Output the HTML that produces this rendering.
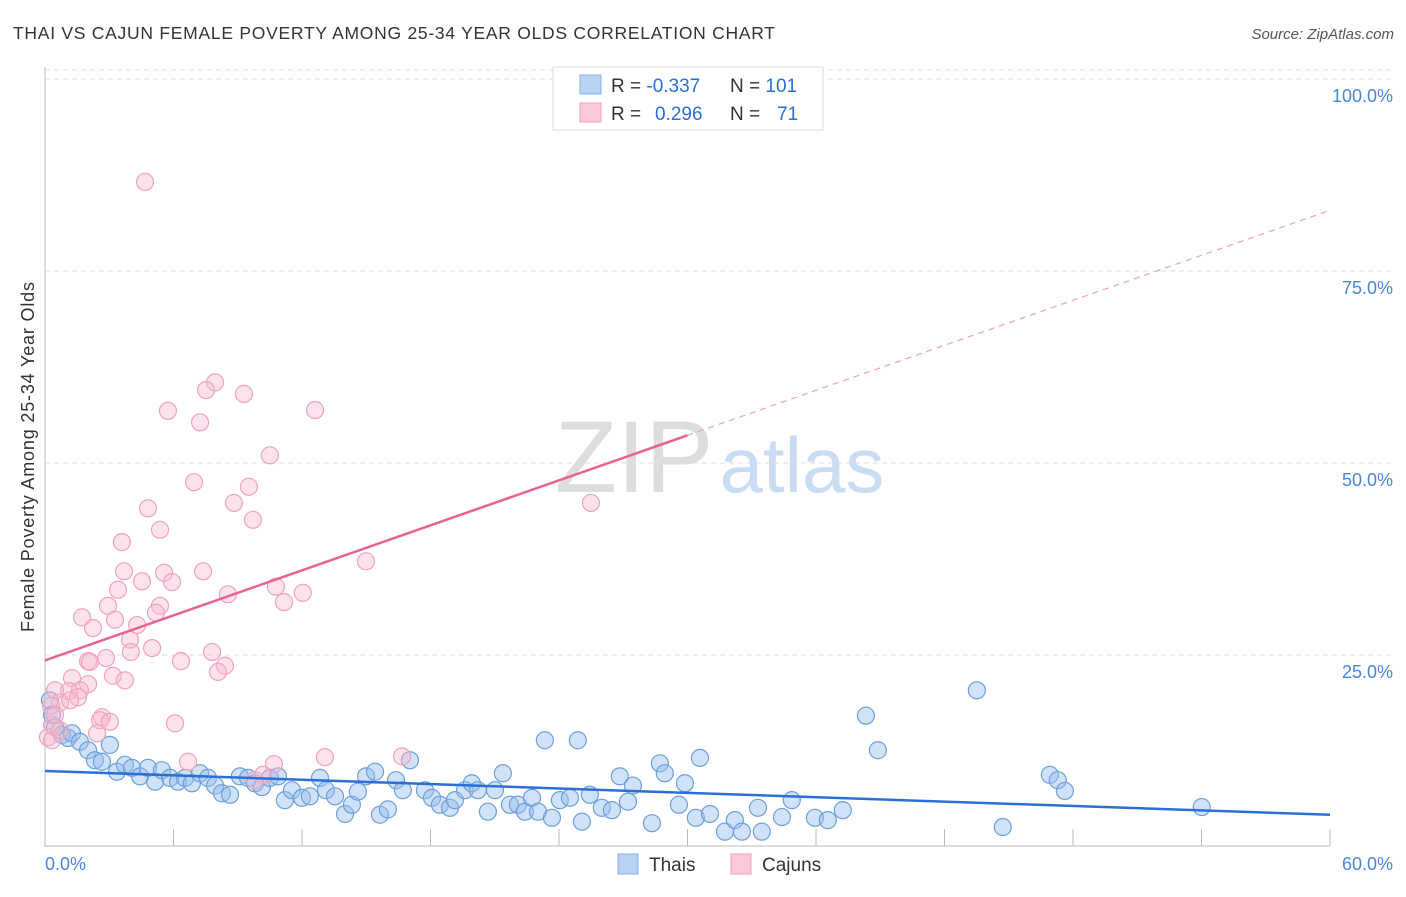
<!DOCTYPE html>
<html><head><meta charset="utf-8"><style>
body{margin:0;background:#fff;font-family:"Liberation Sans",sans-serif;}
svg text{font-family:"Liberation Sans",sans-serif;}
</style></head><body>
<svg id="chart" width="1406" height="892" xmlns="http://www.w3.org/2000/svg">
<text x="13" y="39" font-size="17.5" fill="#333" textLength="762">THAI VS CAJUN FEMALE POVERTY AMONG 25-34 YEAR OLDS CORRELATION CHART</text>
<text x="1394" y="39" font-size="15" fill="#555" font-style="italic" text-anchor="end">Source: ZipAtlas.com</text>
<text transform="translate(34,457) rotate(-90)" font-size="18" fill="#333" text-anchor="middle" textLength="350">Female Poverty Among 25-34 Year Olds</text>
<g>
<text x="634" y="492" font-size="102" fill="#ddd" font-family="Liberation Serif,serif" text-anchor="middle">ZIP</text>
<text x="802" y="492" font-size="78" fill="#c9dcf3" text-anchor="middle">atlas</text>
</g>
<g id="grid"></g><g id="axes"></g><g id="pts"></g><g id="lines"></g>
<g>
<rect x="553" y="67" width="270" height="63" fill="#fff" stroke="#ddd"/>
<rect x="580" y="75" width="21" height="19" fill="#b8d2f3" stroke="#8ab2e6"/>
<rect x="580" y="103" width="21" height="19" fill="#fbc8d8" stroke="#f0a0b8"/>
<text x="611" y="92" font-size="19" fill="#333">R = <tspan fill="#2a6fd6">-0.337</tspan></text>
<text x="730" y="92" font-size="19" fill="#333">N = <tspan fill="#2a6fd6">101</tspan></text>
<text x="611" y="120" font-size="19" fill="#333">R = <tspan fill="#2a6fd6" x="655">0.296</tspan></text>
<text x="730" y="120" font-size="19" fill="#333">N = <tspan fill="#2a6fd6" x="777">71</tspan></text>
</g>
<g>
<rect x="618" y="854" width="20" height="20" fill="#b8d2f3" stroke="#8ab2e6"/>
<text x="649" y="871" font-size="19" fill="#333">Thais</text>
<rect x="731" y="854" width="20" height="20" fill="#fbc8d8" stroke="#f0a0b8"/>
<text x="762" y="871" font-size="19" fill="#333">Cajuns</text>
</g>
</svg>
<script>
const yTicks=[25,50,75,100];
const yTickLabels=["25.0%","50.0%","75.0%","100.0%"];
const xTicks=[0,6,12,18,24,30,36,42,48,54,60];
const thaiX=[0.23,0.33,0.47,0.79,1.07,1.26,1.63,2.01,2.33,2.66,3.03,3.36,3.73,4.06,4.44,4.81,5.14,5.46,5.84,6.21,6.54,6.86,7.24,7.61,7.94,8.26,8.64,9.10,9.48,9.80,10.13,10.50,10.88,11.20,11.53,12.00,12.37,12.84,13.12,13.54,14.01,14.33,14.61,14.99,15.41,15.64,16.01,16.39,16.71,17.04,17.74,18.07,18.44,18.91,19.14,19.61,19.93,20.21,20.68,21.01,21.38,21.71,22.08,22.41,22.74,23.02,23.34,23.67,24.04,24.51,24.88,25.07,25.44,26.00,26.47,26.84,27.22,27.45,28.34,28.71,28.94,29.60,29.88,30.39,30.58,31.05,31.75,32.21,32.54,33.29,33.47,34.41,34.87,35.95,36.55,37.25,38.33,38.89,43.51,44.72,46.92,47.29,47.62,54.01];
const thaiY=[19.1,17.2,15.6,14.6,14.2,14.8,13.7,12.6,11.3,11.1,13.3,9.8,10.7,10.3,9.2,10.3,8.5,10.0,9.0,8.5,9.0,8.3,9.6,9.0,8.0,7.0,6.8,9.2,9.0,8.3,7.8,9.0,9.2,6.1,7.4,6.4,6.6,9.0,7.4,6.6,4.3,5.5,7.2,9.2,9.8,4.2,4.9,8.7,7.4,11.3,7.4,6.4,5.5,5.1,6.1,7.4,8.3,7.4,4.6,7.4,9.6,5.5,5.5,4.6,6.4,4.6,13.9,3.8,6.1,6.4,13.9,3.3,6.8,5.1,4.8,9.2,5.9,8.0,3.1,10.9,9.6,5.5,8.3,3.8,11.6,4.3,2.0,3.5,2.0,5.1,2.0,3.9,6.1,3.8,3.5,4.8,17.1,12.6,20.4,2.6,9.4,8.7,7.3,5.2];
const cajunX=[4.67,7.94,5.74,7.52,9.29,12.61,7.24,10.50,6.96,9.52,8.82,4.81,9.71,5.37,25.49,14.99,3.59,3.69,7.38,5.56,5.93,4.53,3.41,8.54,10.78,12.04,11.16,2.94,5.37,5.18,1.73,3.27,4.30,2.24,3.97,5.00,4.01,7.80,2.01,2.85,2.10,6.35,8.40,8.08,3.17,3.73,1.26,2.01,1.63,1.12,0.47,1.54,0.70,0.28,2.66,2.57,3.03,6.07,0.33,2.43,0.14,0.33,6.68,10.69,13.07,16.67,10.18,9.80,0.47,0.70,1.17];
const cajunY=[86.6,60.5,56.8,59.5,59.0,56.9,55.3,51.0,47.5,46.9,44.8,44.1,42.6,41.3,44.8,37.2,39.7,35.9,35.9,35.7,34.5,34.6,33.5,32.9,33.9,33.1,31.9,31.4,31.4,30.5,29.9,29.6,28.9,28.5,27.0,25.9,25.4,25.4,24.2,24.6,24.1,24.2,23.6,22.8,22.3,21.7,22.0,21.2,20.4,20.3,20.4,19.5,18.8,18.4,16.9,16.5,16.3,16.1,15.9,14.8,14.3,13.9,11.1,10.8,11.7,11.8,9.4,8.7,17.2,15.2,19.1];
const thaiTrend=[9.9,4.2];
const cajunTrend=[24.3,82.9];
const NS="http://www.w3.org/2000/svg";
const X=v=>45+v*(1330-45)/60;
const Y=v=>847-v*7.68;
function mk(t,a,p){const e=document.createElementNS(NS,t);for(const k in a)e.setAttribute(k,a[k]);document.getElementById(p).appendChild(e);return e;}
yTicks.forEach((t,i)=>{
 const l=mk('line',{x1:45,x2:1394,y1:Y(t),y2:Y(t),stroke:'#ddd','stroke-dasharray':'5,4'},'grid');
 
 
 const tx=mk('text',{x:1393,y:Y(t)+23,'font-size':18,fill:'#4a86d8','text-anchor':'end'},'axes');
 tx.textContent=yTickLabels[i];
 
 
});
const tl=mk('line',{x1:45,x2:1394,y1:Y(100)-9,y2:Y(100)-9,stroke:'#ddd','stroke-dasharray':'5,4'},'grid');


const ya=mk('line',{x1:45,x2:45,y1:67,y2:847,stroke:'#bbb'},'axes');


const xa=mk('line',{x1:45,x2:1330,y1:846,y2:846,stroke:'#bbb'},'axes');


xTicks.forEach(t=>{
 const l=mk('line',{x1:X(t),x2:X(t),y1:829,y2:846,stroke:'#bbb'},'axes');
 
 
});
const xl0=mk('text',{x:45,y:870,'font-size':18,fill:'#4a86d8'},'axes');
xl0.textContent='0.0%';


const xl1=mk('text',{x:1393,y:870,'font-size':18,fill:'#4a86d8','text-anchor':'end'},'axes');
xl1.textContent='60.0%';


thaiX.forEach((v,i)=>{
 const c=mk('circle',{cx:X(v),cy:Y(thaiY[i]),r:8.5,fill:'rgba(150,190,238,0.45)',stroke:'#6e9fdc','stroke-width':1.2},'pts');
 
 
});
cajunX.forEach((v,i)=>{
 const c=mk('circle',{cx:X(v),cy:Y(cajunY[i]),r:8.5,fill:'rgba(248,185,205,0.4)',stroke:'#f0a3bb','stroke-width':1.2},'pts');
 
 
});
const l1=mk('line',{x1:X(0),y1:Y(thaiTrend[0]),x2:X(60),y2:Y(thaiTrend[1]),stroke:'#2a6fd6','stroke-width':2.5},'lines');


const cm=(cajunTrend[0]+cajunTrend[1])/2;
const l2=mk('line',{x1:X(0),y1:Y(cajunTrend[0]),x2:X(30),y2:Y(cm),stroke:'#e8638f','stroke-width':2.5},'lines');


const l3=mk('line',{x1:X(30),y1:Y(cm),x2:X(60),y2:Y(cajunTrend[1]),stroke:'#eea0b8','stroke-width':1.2,'stroke-dasharray':'6,5'},'lines');


</script>
</body></html>
